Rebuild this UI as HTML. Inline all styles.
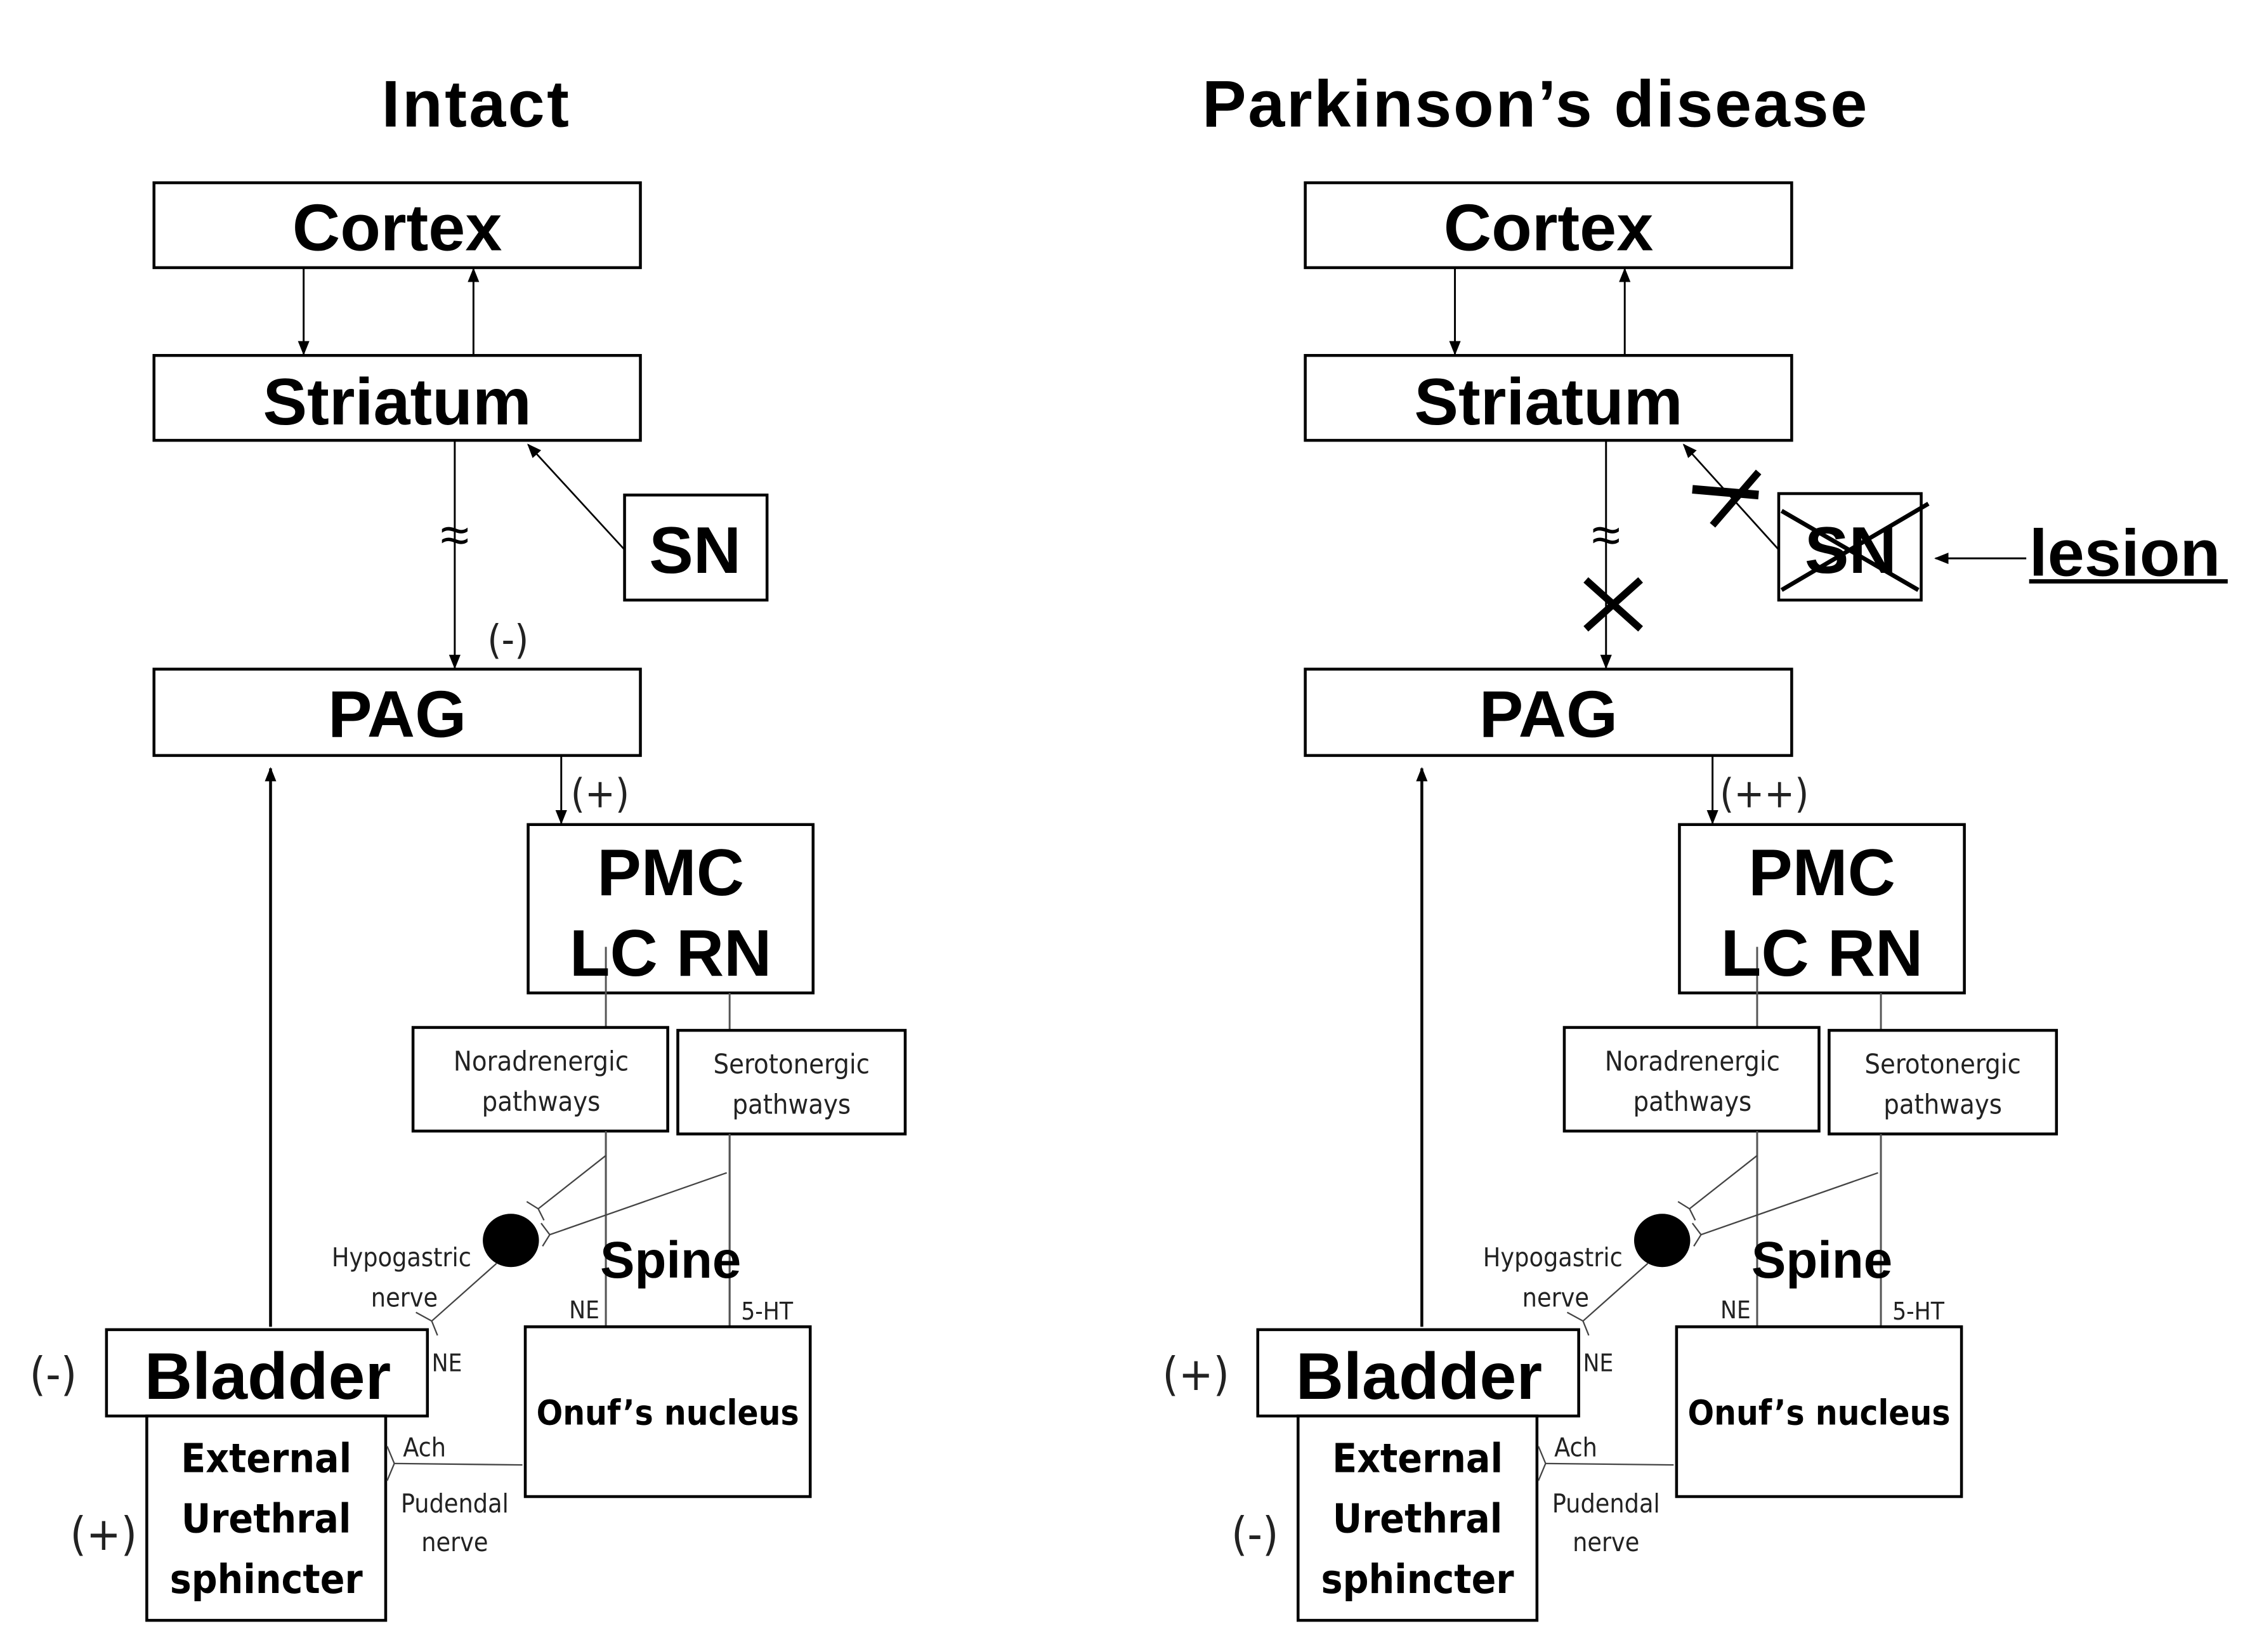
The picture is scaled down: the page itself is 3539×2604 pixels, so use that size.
<!DOCTYPE html>
<html><head><meta charset="utf-8"><style>
html,body{margin:0;padding:0;background:#fff}
svg{display:block}
text{font-family:"Liberation Sans",sans-serif;fill:#000}
.b{font-weight:bold}
.s{font-family:"DejaVu Sans Condensed","DejaVu Sans","Liberation Sans",sans-serif;fill:#222}
</style></head><body>
<svg width="3539" height="2604" viewBox="0 0 1560 1148" preserveAspectRatio="none" xmlns="http://www.w3.org/2000/svg">
<defs>
<marker id="a" markerWidth="10" markerHeight="10" refX="9" refY="5" orient="auto" markerUnits="userSpaceOnUse"><path d="M0,1 L10,5 L0,9 Z" fill="#000"/></marker>
<g id="panel" fill="none" stroke="#000">
  <rect x="107" y="127" width="338" height="59" stroke-width="2" fill="#fff"/>
  <rect x="107" y="247" width="338" height="59" stroke-width="2" fill="#fff"/>
  <rect x="107" y="465" width="338" height="60" stroke-width="2" fill="#fff"/>
  <line x1="211" y1="186" x2="211" y2="246" stroke-width="1.3" marker-end="url(#a)"/>
  <line x1="329" y1="246" x2="329" y2="187" stroke-width="1.3" marker-end="url(#a)"/>
  <line x1="316" y1="306" x2="316" y2="464" stroke-width="1.3" marker-end="url(#a)"/>
  <line x1="390" y1="525" x2="390" y2="572" stroke-width="1.3" marker-end="url(#a)"/>
  <rect x="367" y="573" width="198" height="117" stroke-width="2" fill="#fff"/>
  <line x1="421" y1="658" x2="421" y2="922" stroke-width="1.3" stroke="#555"/>
  <line x1="507" y1="690" x2="507" y2="922" stroke-width="1.3" stroke="#555"/>
  <rect x="287" y="714" width="177" height="72" stroke-width="2" fill="#fff"/>
  <rect x="471" y="716" width="158" height="72" stroke-width="2" fill="#fff"/>
  <line x1="421" y1="786" x2="421" y2="922" stroke-width="1.3" stroke="#555"/>
  <line x1="507" y1="788" x2="507" y2="922" stroke-width="1.3" stroke="#555"/>
  <line x1="421" y1="803" x2="374" y2="840" stroke-width="1" stroke="#444"/>
  <path d="M366,835 L374,840 L378,848" stroke-width="1" stroke="#444"/>
  <line x1="505" y1="815" x2="382" y2="858" stroke-width="1" stroke="#444"/>
  <path d="M376,850 L382,858 L377,866" stroke-width="1" stroke="#444"/>
  <ellipse cx="355" cy="862" rx="19" ry="18" fill="#000"/>
  <line x1="345" y1="878" x2="300" y2="918" stroke-width="1" stroke="#444"/>
  <path d="M289,912 L300,918 L304,928" stroke-width="1" stroke="#444"/>
  <line x1="188" y1="922" x2="188" y2="534" stroke-width="2" marker-end="url(#a)"/>
  <rect x="74" y="924" width="223" height="60" stroke-width="2" fill="#fff"/>
  <rect x="102" y="984" width="166" height="142" stroke-width="2" fill="#fff"/>
  <rect x="365" y="922" width="198" height="118" stroke-width="2" fill="#fff"/>
  <line x1="363" y1="1018" x2="274" y2="1017" stroke-width="1" stroke="#444"/>
  <path d="M269,1005 L274,1017 L269,1029" stroke-width="1" stroke="#444"/>
</g>
<g id="ptext">
  <text x="276" y="174" font-size="46" class="b" text-anchor="middle">Cortex</text>
  <text x="276" y="295" font-size="46" class="b" text-anchor="middle">Striatum</text>
  <text x="276" y="512" font-size="46" class="b" text-anchor="middle">PAG</text>
  <text x="466" y="622" font-size="46" class="b" text-anchor="middle">PMC</text>
  <text x="466" y="678" font-size="46" class="b" text-anchor="middle">LC RN</text>
  <text x="376" y="744" font-size="19" class="s" text-anchor="middle">Noradrenergic</text>
  <text x="376" y="772" font-size="19" class="s" text-anchor="middle">pathways</text>
  <text x="550" y="746" font-size="19" class="s" text-anchor="middle">Serotonergic</text>
  <text x="550" y="774" font-size="19" class="s" text-anchor="middle">pathways</text>
  <text x="316" y="384" font-size="36" text-anchor="middle">≈</text>
  <text x="466" y="888" font-size="36" class="b" text-anchor="middle">Spine</text>
  <text x="279" y="880" font-size="18" class="s" text-anchor="middle">Hypogastric</text>
  <text x="281" y="908" font-size="18" class="s" text-anchor="middle">nerve</text>
  <text x="406" y="916" font-size="17" class="s" text-anchor="middle">NE</text>
  <text x="533" y="917" font-size="17" class="s" text-anchor="middle">5-HT</text>
  <text x="300" y="953" font-size="17" class="s">NE</text>
  <text x="186" y="972" font-size="46" class="b" text-anchor="middle">Bladder</text>
  <text x="185" y="1023" font-size="28" class="b s" style="fill:#000" text-anchor="middle">External</text>
  <text x="185" y="1065" font-size="28" class="b s" style="fill:#000" text-anchor="middle">Urethral</text>
  <text x="185" y="1107" font-size="28" class="b s" style="fill:#000" text-anchor="middle">sphincter</text>
  <text x="464" y="990" font-size="24" class="b s" style="fill:#000" text-anchor="middle">Onuf’s nucleus</text>
  <text x="280" y="1012" font-size="18" class="s">Ach</text>
  <text x="316" y="1051" font-size="18" class="s" text-anchor="middle">Pudendal</text>
  <text x="316" y="1078" font-size="18" class="s" text-anchor="middle">nerve</text>
</g>
</defs>

<text x="331" y="88" font-size="46" class="b" text-anchor="middle" letter-spacing="1.5">Intact</text>
<text x="1067" y="88" font-size="46" class="b" text-anchor="middle" letter-spacing="1.2">Parkinson’s disease</text>

<use href="#panel"/>
<use href="#ptext"/>
<g fill="none" stroke="#000">
  <rect x="434" y="344" width="99" height="73" stroke-width="2" fill="#fff"/>
  <line x1="434" y1="382" x2="367" y2="309" stroke-width="1.2" marker-end="url(#a)"/>
</g>
<text x="483" y="398" font-size="46" class="b" text-anchor="middle">SN</text>
<text x="353" y="454" font-size="28" class="s" text-anchor="middle">(-)</text>
<text x="417" y="561" font-size="28" class="s" text-anchor="middle">(+)</text>
<text x="37" y="966" font-size="32" class="s" text-anchor="middle">(-)</text>
<text x="72" y="1077" font-size="32" class="s" text-anchor="middle">(+)</text>

<g transform="translate(800,0)">
  <use href="#panel"/>
  <use href="#ptext"/>
</g>
<g fill="none" stroke="#000">
  <rect x="1236" y="343" width="99" height="74" stroke-width="2" fill="#fff"/>
  <line x1="1236" y1="382" x2="1170" y2="309" stroke-width="1.2" marker-end="url(#a)"/>
  <line x1="1408" y1="388" x2="1345" y2="388" stroke-width="1.3" marker-end="url(#a)"/>
  <line x1="1222" y1="328" x2="1190" y2="365" stroke-width="5"/>
  <line x1="1176" y1="340" x2="1222" y2="344" stroke-width="6"/>
  <line x1="1102" y1="403" x2="1140" y2="437" stroke-width="5"/>
  <line x1="1140" y1="403" x2="1102" y2="437" stroke-width="5"/>
</g>
<text x="1286" y="398" font-size="46" class="b" text-anchor="middle">SN</text>
<line x1="1238" y1="355" x2="1333" y2="410" stroke="#000" stroke-width="3"/>
<line x1="1340" y1="350" x2="1238" y2="410" stroke="#000" stroke-width="3"/>
<text x="1410" y="400" font-size="46" class="b">lesion</text>
<line x1="1410" y1="404" x2="1548" y2="404" stroke="#000" stroke-width="3"/>
<text x="1226" y="561" font-size="28" class="s" text-anchor="middle">(++)</text>
<text x="831" y="966" font-size="32" class="s" text-anchor="middle">(+)</text>
<text x="872" y="1077" font-size="32" class="s" text-anchor="middle">(-)</text>
</svg>
</body></html>
